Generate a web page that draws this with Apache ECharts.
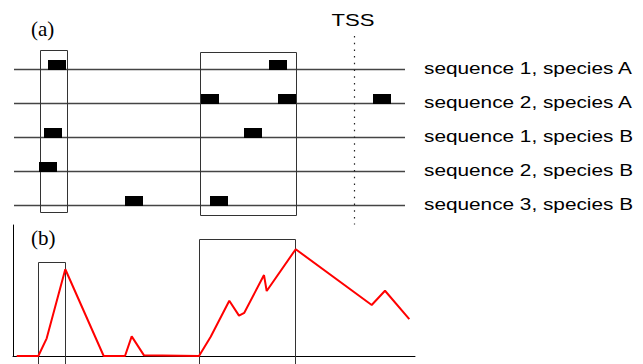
<!DOCTYPE html>
<html><head><meta charset="utf-8">
<script src="https://cdn.jsdelivr.net/npm/echarts@6/dist/echarts.min.js"></script>
<style>html,body{margin:0;padding:0;background:#fff}#c{width:643px;height:364px}</style>
</head><body><div id="c"></div>
<script>
// ---- data ----
const rowLabels = ['sequence 1, species A', 'sequence 2, species A', 'sequence 1, species B', 'sequence 2, species B', 'sequence 3, species B'];
const rowValues = [5, 4, 3, 2, 1];
const seqRange = [1, 392];
// [row, start, end]
const sites = [[0,35,53],[0,256,274],[1,188,206],[1,265,283],[1,360,378],[2,31,49],[2,231,249],[3,26,44],[4,112,130],[4,197,215]];
// [x0, x1, yTop, yBottom]
const boxesA = [[27,54,5.56,0.79],[187,283,5.5,0.71]];
const tssLabel = 'TSS';
const tssPos = 341;
const tssSpan = [5.97, 0.43];
const scoreX = [3.7,25.3,33.7,52.3,90.7,112,118.7,131,186,197.7,216.3,226,231.3,251,253.7,282.7,358.7,372,396.3];
const scoreY = [0,0,13.5,66.2,0,0,15,0.5,0,14.7,42.2,30.8,33,61.8,49.6,81.5,38.9,49.8,28.2];
// [x0, x1, yTop]
const boxesB = [[25,52,71.8],[186,282,89.3]];
const panelLabels = ['(a)', '(b)'];

const chart = echarts.init(document.getElementById('c'), null, {renderer: 'svg'});
const sans = 'Liberation Sans, Arial, Helvetica, sans-serif';
const serif = 'Liberation Serif, Times New Roman, serif';
const stretch = 1.26;

const option = {
  animation: false,
  backgroundColor: '#fff',
  graphic: [
    {type: 'text', left: 31, top: 18, style: {text: panelLabels[0], font: '21px ' + serif, fill: '#000'}},
    {type: 'text', left: 31, top: 227, style: {text: panelLabels[1], font: '21px ' + serif, fill: '#000'}}
  ],
  grid: [
    {left: 13, top: 35, width: 402, height: 204},
    {left: 13, top: 225, width: 402, height: 131}
  ],
  xAxis: [
    {gridIndex: 0, type: 'value', min: 0, max: 402, show: false},
    {gridIndex: 1, type: 'value', min: 0, max: 402,
      axisLine: {show: true, onZero: true, lineStyle: {color: '#000', width: 1}},
      axisTick: {show: false}, axisLabel: {show: false}, splitLine: {show: false}}
  ],
  yAxis: [
    {gridIndex: 0, type: 'value', min: 0, max: 6, interval: 1, show: false},
    {gridIndex: 1, type: 'value', min: 0, max: 100,
      axisLine: {show: true, lineStyle: {color: '#000', width: 1}},
      axisTick: {show: false}, axisLabel: {show: false}, splitLine: {show: false}}
  ],
  series: [
    // sequence lines with their labels
    {type: 'custom', xAxisIndex: 0, yAxisIndex: 0, silent: true, clip: false,
      data: rowValues.map((v, i) => [seqRange[0], seqRange[1], v, i]),
      renderItem: (params, api) => {
        const a = api.coord([api.value(0), api.value(2)]);
        const b = api.coord([api.value(1), api.value(2)]);
        const y = Math.round(a[1]) + 0.5;
        return {type: 'group', children: [
          {type: 'line', shape: {x1: a[0], y1: y, x2: b[0], y2: y},
            style: {stroke: '#444', lineWidth: 1.3}},
          {type: 'text', x: b[0] + 19, y: y - 1, scaleX: stretch, scaleY: 1,
            style: {text: rowLabels[api.value(3)], font: '16.5px ' + sans, fill: '#000', align: 'left', verticalAlign: 'middle'}}
        ]};
      }},
    // boxes in (a)
    {type: 'custom', xAxisIndex: 0, yAxisIndex: 0, silent: true, data: boxesA,
      renderItem: (params, api) => {
        const a = api.coord([api.value(0), api.value(2)]);
        const b = api.coord([api.value(1), api.value(3)]);
        return {type: 'rect', shape: {x: Math.round(a[0]) + 0.5, y: Math.round(a[1]) + 0.5, width: Math.round(b[0] - a[0]), height: Math.round(b[1] - a[1])},
          style: {fill: 'none', stroke: '#333', lineWidth: 1}};
      }},
    // motif sites
    {type: 'custom', xAxisIndex: 0, yAxisIndex: 0, silent: true,
      data: sites.map(s => [s[1], s[2], rowValues[s[0]]]),
      renderItem: (params, api) => {
        const a = api.coord([api.value(0), api.value(2)]);
        const b = api.coord([api.value(1), api.value(2)]);
        const yb = Math.round(a[1]) + 1;
        return {type: 'rect', shape: {x: a[0], y: yb - 10, width: b[0] - a[0], height: 10},
          style: {fill: '#000'}};
      }},
    // TSS marker
    {type: 'custom', xAxisIndex: 0, yAxisIndex: 0, silent: true, clip: false,
      data: [[tssPos, tssSpan[0], tssSpan[1]]],
      renderItem: (params, api) => {
        const a = api.coord([api.value(0), api.value(1)]);
        const b = api.coord([api.value(0), api.value(2)]);
        return {type: 'group', children: [
          {type: 'line', shape: {x1: Math.round(a[0]) + 0.5, y1: a[1], x2: Math.round(a[0]) + 0.5, y2: b[1]},
            style: {stroke: '#222', lineWidth: 1.2, lineDash: [1.5, 5.2]}},
          {type: 'text', x: a[0] - 1, y: 19.5, scaleX: 1.3, scaleY: 1,
            style: {text: tssLabel, font: '17px ' + sans, fill: '#000', align: 'center', verticalAlign: 'middle'}}
        ]};
      }},
    // boxes in (b)
    {type: 'custom', xAxisIndex: 1, yAxisIndex: 1, silent: true, clip: false, data: boxesB,
      renderItem: (params, api) => {
        const a = api.coord([api.value(0), api.value(2)]);
        const b = api.coord([api.value(1), 0]);
        const x0 = Math.round(a[0]) + 0.5, x1 = Math.round(b[0]) + 0.5, yt = Math.round(a[1]) + 0.5;
        return {type: 'polyline', shape: {points: [[x0, 370], [x0, yt], [x1, yt], [x1, 370]]},
          style: {fill: 'none', stroke: '#333', lineWidth: 1}};
      }},
    // score line
    {type: 'line', xAxisIndex: 1, yAxisIndex: 1, silent: true, symbol: 'none',
      data: scoreX.map((x, i) => [x, scoreY[i]]),
      lineStyle: {color: '#ff0000', width: 2}, z: 5}
  ]
};
chart.setOption(option);
</script>
</body></html>
